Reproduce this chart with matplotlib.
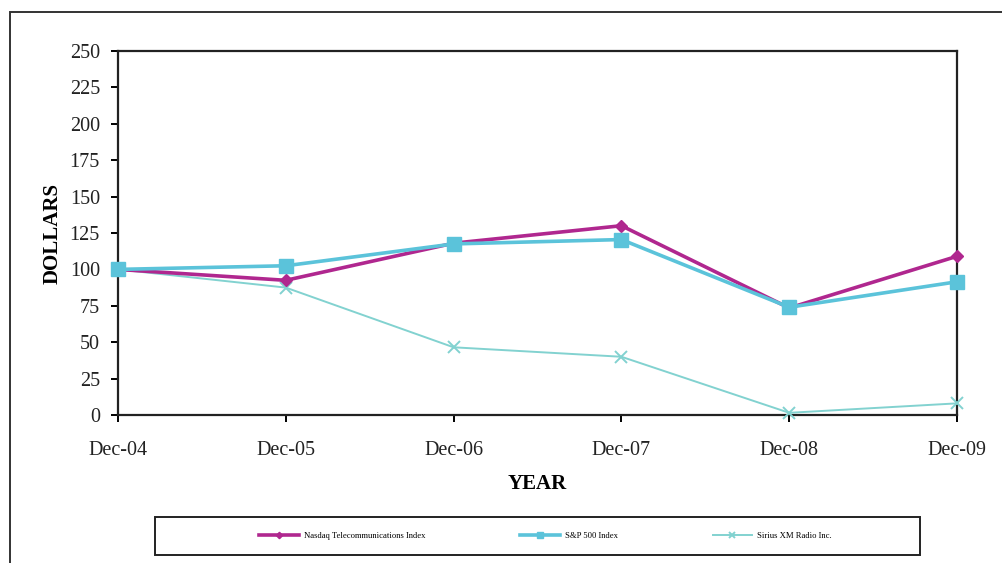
import matplotlib
matplotlib.use("Agg")
import matplotlib.pyplot as plt
from matplotlib.patches import Rectangle

years = ["Dec-04", "Dec-05", "Dec-06", "Dec-07", "Dec-08", "Dec-09"]
nasdaq = [100, 92.5, 118, 130, 73.5, 109]
sp500 = [100, 102.5, 117.5, 120.5, 74, 91.5]
sirius = [100, 87.5, 46.5, 40, 1.5, 8]
series_names = ["Nasdaq Telecommunications Index", "S&P 500 Index", "Sirius XM Radio Inc."]
yticks = [0, 25, 50, 75, 100, 125, 150, 175, 200, 225, 250]

plt.rcParams['font.family'] = ['Liberation Serif', 'DejaVu Serif']

W, H = 1003, 563
fig = plt.figure(figsize=(W / 100, H / 100), dpi=100)

# outer frame (extends beyond right and bottom edges)
fig.patches.append(Rectangle((10 / W, -0.1), 1.2, 1 - 12 / H + 0.1, transform=fig.transFigure,
                             fill=False, edgecolor='#333333', linewidth=1.4))

ax = fig.add_axes([118 / W, 1 - 415 / H, (957 - 118) / W, (415 - 51) / H])
x = list(range(len(years)))

l1, = ax.plot(x, nasdaq, color='#B0278F', lw=2.6, marker='D', ms=6.5, clip_on=False, zorder=4)
l2, = ax.plot(x, sp500, color='#5BC3DA', lw=2.6, marker='s', ms=10, clip_on=False, zorder=5)
l3, = ax.plot(x, sirius, color='#82D2D0', lw=1.4, marker='x', ms=8, mew=1.4, clip_on=False, zorder=3)

ax.set_xlim(0, len(years) - 1)
ax.set_ylim(0, 250)
ax.set_xticks(x)
ax.set_xticklabels(years)
ax.set_yticks(yticks)
ax.tick_params(axis='both', direction='out', length=5, width=1.4, labelsize=14.5,
               color='black', labelcolor='#222222')
ax.tick_params(axis='y', pad=8)
ax.tick_params(axis='x', pad=13.5)
for s in ax.spines.values():
    s.set_linewidth(1.6)
    s.set_color('#222222')

ax.set_ylabel("DOLLARS", fontsize=15, fontweight='bold', labelpad=5)
ax.set_xlabel("YEAR", fontsize=15, fontweight='bold', labelpad=10)

# legend box
fig.patches.append(Rectangle((155 / W, 1 - 555 / H), (920 - 155) / W, (555 - 517) / H,
                             transform=fig.transFigure, fill=False, edgecolor='#222222', linewidth=1.4))
leg = fig.legend([l1, l2, l3], series_names, loc='center', ncol=3,
                 bbox_to_anchor=((155 + 920) / 2 / W + 0.008, 1 - 536 / H),
                 frameon=False, fontsize=6.2, handlelength=4.6, columnspacing=11,
                 markerscale=0.5, handletextpad=0.6)

fig.savefig("out.png", dpi=100)
